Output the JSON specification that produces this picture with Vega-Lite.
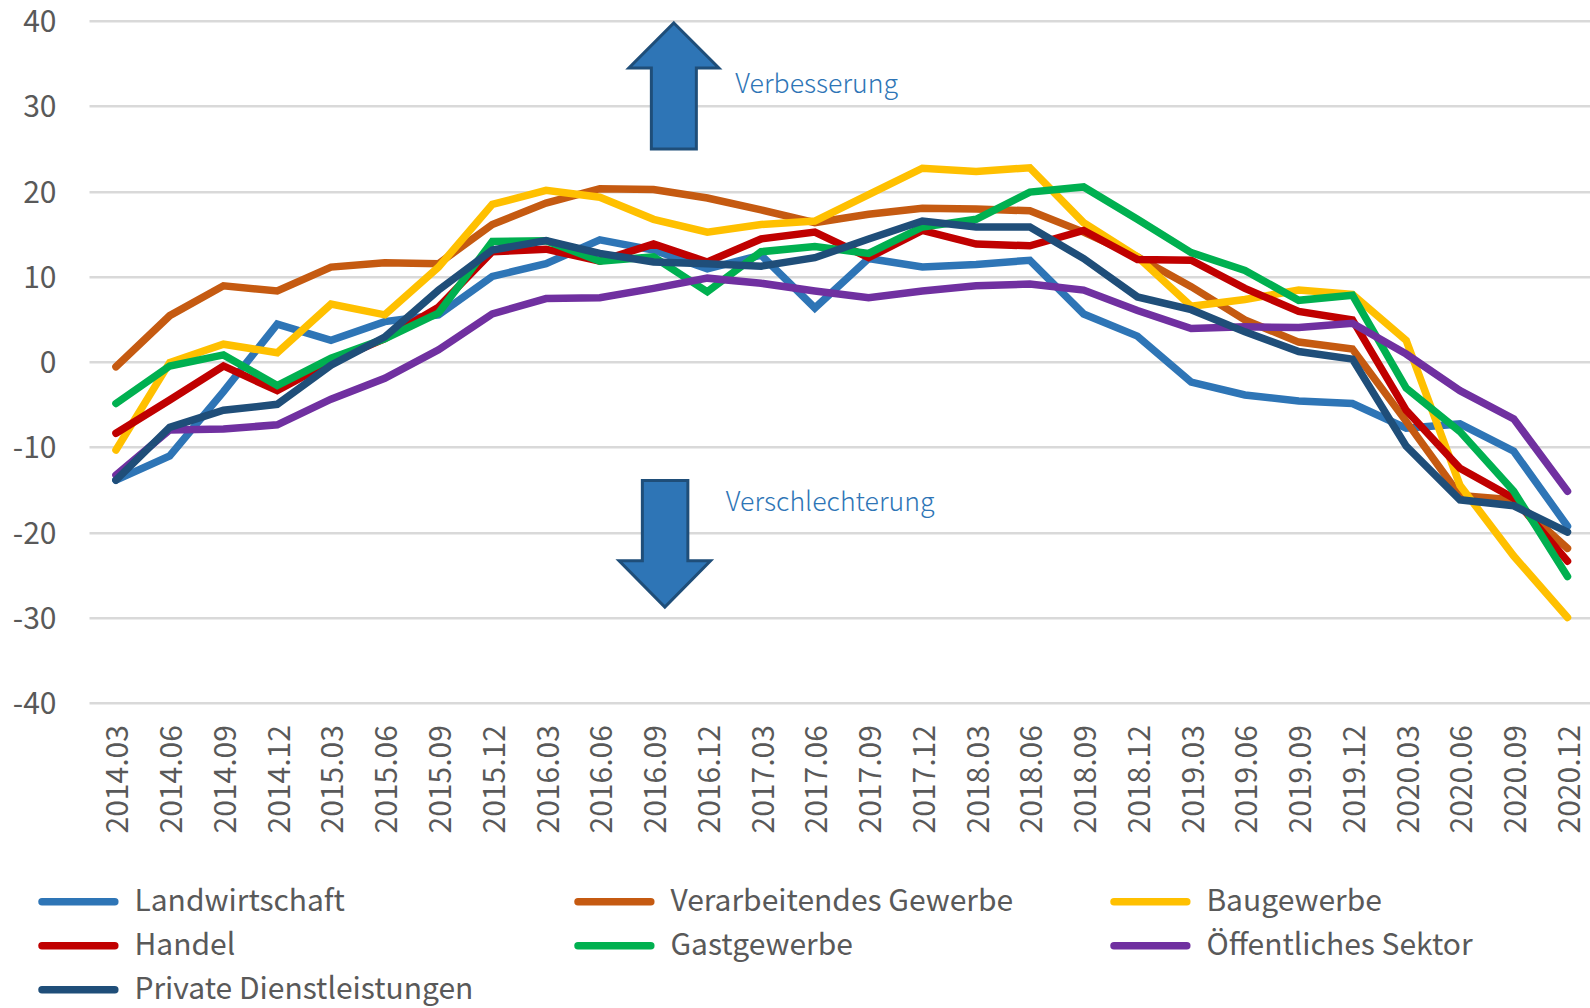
{"$schema":"https://vega.github.io/schema/vega-lite/v6.json","autosize":"none","padding":{"left":89,"top":20.7,"right":0,"bottom":305.3},"width":1501,"height":682,"background":"white","view":{"stroke":null},"datasets":{"lines":[
{"q":"2014.03","s":"Landwirtschaft","v":-13.9},{"q":"2014.06","s":"Landwirtschaft","v":-11.05},{"q":"2014.09","s":"Landwirtschaft","v":-3.5},{"q":"2014.12","s":"Landwirtschaft","v":4.4},{"q":"2015.03","s":"Landwirtschaft","v":2.5},{"q":"2015.06","s":"Landwirtschaft","v":4.7},{"q":"2015.09","s":"Landwirtschaft","v":5.5},{"q":"2015.12","s":"Landwirtschaft","v":10},{"q":"2016.03","s":"Landwirtschaft","v":11.5},{"q":"2016.06","s":"Landwirtschaft","v":14.3},{"q":"2016.09","s":"Landwirtschaft","v":13.1},{"q":"2016.12","s":"Landwirtschaft","v":10.9},{"q":"2017.03","s":"Landwirtschaft","v":12.5},{"q":"2017.06","s":"Landwirtschaft","v":6.3},{"q":"2017.09","s":"Landwirtschaft","v":12.1},{"q":"2017.12","s":"Landwirtschaft","v":11.1},{"q":"2018.03","s":"Landwirtschaft","v":11.4},{"q":"2018.06","s":"Landwirtschaft","v":11.9},{"q":"2018.09","s":"Landwirtschaft","v":5.6},{"q":"2018.12","s":"Landwirtschaft","v":3},{"q":"2019.03","s":"Landwirtschaft","v":-2.4},{"q":"2019.06","s":"Landwirtschaft","v":-3.9},{"q":"2019.09","s":"Landwirtschaft","v":-4.6},{"q":"2019.12","s":"Landwirtschaft","v":-4.9},{"q":"2020.03","s":"Landwirtschaft","v":-7.8},{"q":"2020.06","s":"Landwirtschaft","v":-7.3},{"q":"2020.09","s":"Landwirtschaft","v":-10.5},{"q":"2020.12","s":"Landwirtschaft","v":-19.3},
{"q":"2014.03","s":"Verarbeitendes Gewerbe","v":-0.6},{"q":"2014.06","s":"Verarbeitendes Gewerbe","v":5.4},{"q":"2014.09","s":"Verarbeitendes Gewerbe","v":8.9},{"q":"2014.12","s":"Verarbeitendes Gewerbe","v":8.3},{"q":"2015.03","s":"Verarbeitendes Gewerbe","v":11.1},{"q":"2015.06","s":"Verarbeitendes Gewerbe","v":11.6},{"q":"2015.09","s":"Verarbeitendes Gewerbe","v":11.5},{"q":"2015.12","s":"Verarbeitendes Gewerbe","v":16.1},{"q":"2016.03","s":"Verarbeitendes Gewerbe","v":18.6},{"q":"2016.06","s":"Verarbeitendes Gewerbe","v":20.3},{"q":"2016.09","s":"Verarbeitendes Gewerbe","v":20.2},{"q":"2016.12","s":"Verarbeitendes Gewerbe","v":19.2},{"q":"2017.03","s":"Verarbeitendes Gewerbe","v":17.8},{"q":"2017.06","s":"Verarbeitendes Gewerbe","v":16.3},{"q":"2017.09","s":"Verarbeitendes Gewerbe","v":17.3},{"q":"2017.12","s":"Verarbeitendes Gewerbe","v":18},{"q":"2018.03","s":"Verarbeitendes Gewerbe","v":17.9},{"q":"2018.06","s":"Verarbeitendes Gewerbe","v":17.7},{"q":"2018.09","s":"Verarbeitendes Gewerbe","v":15.2},{"q":"2018.12","s":"Verarbeitendes Gewerbe","v":12.3},{"q":"2019.03","s":"Verarbeitendes Gewerbe","v":8.8},{"q":"2019.06","s":"Verarbeitendes Gewerbe","v":4.9},{"q":"2019.09","s":"Verarbeitendes Gewerbe","v":2.3},{"q":"2019.12","s":"Verarbeitendes Gewerbe","v":1.5},{"q":"2020.03","s":"Verarbeitendes Gewerbe","v":-7},{"q":"2020.06","s":"Verarbeitendes Gewerbe","v":-15.7},{"q":"2020.09","s":"Verarbeitendes Gewerbe","v":-16.2},{"q":"2020.12","s":"Verarbeitendes Gewerbe","v":-21.9},
{"q":"2014.03","s":"Baugewerbe","v":-10.35},{"q":"2014.06","s":"Baugewerbe","v":-0.1},{"q":"2014.09","s":"Baugewerbe","v":2.05},{"q":"2014.12","s":"Baugewerbe","v":1.05},{"q":"2015.03","s":"Baugewerbe","v":6.75},{"q":"2015.06","s":"Baugewerbe","v":5.5},{"q":"2015.09","s":"Baugewerbe","v":11.1},{"q":"2015.12","s":"Baugewerbe","v":18.45},{"q":"2016.03","s":"Baugewerbe","v":20.1},{"q":"2016.06","s":"Baugewerbe","v":19.3},{"q":"2016.09","s":"Baugewerbe","v":16.7},{"q":"2016.12","s":"Baugewerbe","v":15.2},{"q":"2017.03","s":"Baugewerbe","v":16.1},{"q":"2017.06","s":"Baugewerbe","v":16.5},{"q":"2017.09","s":"Baugewerbe","v":19.6},{"q":"2017.12","s":"Baugewerbe","v":22.7},{"q":"2018.03","s":"Baugewerbe","v":22.3},{"q":"2018.06","s":"Baugewerbe","v":22.75},{"q":"2018.09","s":"Baugewerbe","v":16.3},{"q":"2018.12","s":"Baugewerbe","v":12.3},{"q":"2019.03","s":"Baugewerbe","v":6.5},{"q":"2019.06","s":"Baugewerbe","v":7.3},{"q":"2019.09","s":"Baugewerbe","v":8.4},{"q":"2019.12","s":"Baugewerbe","v":7.9},{"q":"2020.03","s":"Baugewerbe","v":2.5},{"q":"2020.06","s":"Baugewerbe","v":-14.5},{"q":"2020.09","s":"Baugewerbe","v":-22.8},{"q":"2020.12","s":"Baugewerbe","v":-30},
{"q":"2014.03","s":"Handel","v":-8.4},{"q":"2014.06","s":"Handel","v":-4.5},{"q":"2014.09","s":"Handel","v":-0.5},{"q":"2014.12","s":"Handel","v":-3.4},{"q":"2015.03","s":"Handel","v":0},{"q":"2015.06","s":"Handel","v":2.7},{"q":"2015.09","s":"Handel","v":6.4},{"q":"2015.12","s":"Handel","v":12.9},{"q":"2016.03","s":"Handel","v":13.2},{"q":"2016.06","s":"Handel","v":11.8},{"q":"2016.09","s":"Handel","v":13.8},{"q":"2016.12","s":"Handel","v":11.7},{"q":"2017.03","s":"Handel","v":14.4},{"q":"2017.06","s":"Handel","v":15.2},{"q":"2017.09","s":"Handel","v":12.2},{"q":"2017.12","s":"Handel","v":15.4},{"q":"2018.03","s":"Handel","v":13.8},{"q":"2018.06","s":"Handel","v":13.6},{"q":"2018.09","s":"Handel","v":15.4},{"q":"2018.12","s":"Handel","v":12},{"q":"2019.03","s":"Handel","v":11.9},{"q":"2019.06","s":"Handel","v":8.6},{"q":"2019.09","s":"Handel","v":5.9},{"q":"2019.12","s":"Handel","v":4.9},{"q":"2020.03","s":"Handel","v":-5.7},{"q":"2020.06","s":"Handel","v":-12.5},{"q":"2020.09","s":"Handel","v":-16},{"q":"2020.12","s":"Handel","v":-23.4},
{"q":"2014.03","s":"Gastgewerbe","v":-4.9},{"q":"2014.06","s":"Gastgewerbe","v":-0.5},{"q":"2014.09","s":"Gastgewerbe","v":0.8},{"q":"2014.12","s":"Gastgewerbe","v":-2.8},{"q":"2015.03","s":"Gastgewerbe","v":0.4},{"q":"2015.06","s":"Gastgewerbe","v":2.7},{"q":"2015.09","s":"Gastgewerbe","v":5.7},{"q":"2015.12","s":"Gastgewerbe","v":14.1},{"q":"2016.03","s":"Gastgewerbe","v":14.2},{"q":"2016.06","s":"Gastgewerbe","v":11.8},{"q":"2016.09","s":"Gastgewerbe","v":12.3},{"q":"2016.12","s":"Gastgewerbe","v":8.2},{"q":"2017.03","s":"Gastgewerbe","v":12.9},{"q":"2017.06","s":"Gastgewerbe","v":13.5},{"q":"2017.09","s":"Gastgewerbe","v":12.7},{"q":"2017.12","s":"Gastgewerbe","v":15.8},{"q":"2018.03","s":"Gastgewerbe","v":16.7},{"q":"2018.06","s":"Gastgewerbe","v":19.9},{"q":"2018.09","s":"Gastgewerbe","v":20.5},{"q":"2018.12","s":"Gastgewerbe","v":16.7},{"q":"2019.03","s":"Gastgewerbe","v":12.8},{"q":"2019.06","s":"Gastgewerbe","v":10.7},{"q":"2019.09","s":"Gastgewerbe","v":7.2},{"q":"2019.12","s":"Gastgewerbe","v":7.8},{"q":"2020.03","s":"Gastgewerbe","v":-3.1},{"q":"2020.06","s":"Gastgewerbe","v":-8.2},{"q":"2020.09","s":"Gastgewerbe","v":-15.2},{"q":"2020.12","s":"Gastgewerbe","v":-25.2},
{"q":"2014.03","s":"Öffentliches Sektor","v":-13.3},{"q":"2014.06","s":"Öffentliches Sektor","v":-8},{"q":"2014.09","s":"Öffentliches Sektor","v":-7.9},{"q":"2014.12","s":"Öffentliches Sektor","v":-7.4},{"q":"2015.03","s":"Öffentliches Sektor","v":-4.4},{"q":"2015.06","s":"Öffentliches Sektor","v":-1.95},{"q":"2015.09","s":"Öffentliches Sektor","v":1.4},{"q":"2015.12","s":"Öffentliches Sektor","v":5.6},{"q":"2016.03","s":"Öffentliches Sektor","v":7.4},{"q":"2016.06","s":"Öffentliches Sektor","v":7.5},{"q":"2016.09","s":"Öffentliches Sektor","v":8.6},{"q":"2016.12","s":"Öffentliches Sektor","v":9.8},{"q":"2017.03","s":"Öffentliches Sektor","v":9.2},{"q":"2017.06","s":"Öffentliches Sektor","v":8.3},{"q":"2017.09","s":"Öffentliches Sektor","v":7.5},{"q":"2017.12","s":"Öffentliches Sektor","v":8.3},{"q":"2018.03","s":"Öffentliches Sektor","v":8.9},{"q":"2018.06","s":"Öffentliches Sektor","v":9.1},{"q":"2018.09","s":"Öffentliches Sektor","v":8.4},{"q":"2018.12","s":"Öffentliches Sektor","v":6},{"q":"2019.03","s":"Öffentliches Sektor","v":3.9},{"q":"2019.06","s":"Öffentliches Sektor","v":4.1},{"q":"2019.09","s":"Öffentliches Sektor","v":4},{"q":"2019.12","s":"Öffentliches Sektor","v":4.5},{"q":"2020.03","s":"Öffentliches Sektor","v":0.9},{"q":"2020.06","s":"Öffentliches Sektor","v":-3.4},{"q":"2020.09","s":"Öffentliches Sektor","v":-6.7},{"q":"2020.12","s":"Öffentliches Sektor","v":-15.2},
{"q":"2014.03","s":"Private Dienstleistungen","v":-13.9},{"q":"2014.06","s":"Private Dienstleistungen","v":-7.7},{"q":"2014.09","s":"Private Dienstleistungen","v":-5.7},{"q":"2014.12","s":"Private Dienstleistungen","v":-5},{"q":"2015.03","s":"Private Dienstleistungen","v":-0.4},{"q":"2015.06","s":"Private Dienstleistungen","v":2.9},{"q":"2015.09","s":"Private Dienstleistungen","v":8.4},{"q":"2015.12","s":"Private Dienstleistungen","v":13.1},{"q":"2016.03","s":"Private Dienstleistungen","v":14.2},{"q":"2016.06","s":"Private Dienstleistungen","v":12.7},{"q":"2016.09","s":"Private Dienstleistungen","v":11.7},{"q":"2016.12","s":"Private Dienstleistungen","v":11.5},{"q":"2017.03","s":"Private Dienstleistungen","v":11.2},{"q":"2017.06","s":"Private Dienstleistungen","v":12.2},{"q":"2017.09","s":"Private Dienstleistungen","v":14.4},{"q":"2017.12","s":"Private Dienstleistungen","v":16.5},{"q":"2018.03","s":"Private Dienstleistungen","v":15.8},{"q":"2018.06","s":"Private Dienstleistungen","v":15.8},{"q":"2018.09","s":"Private Dienstleistungen","v":12.1},{"q":"2018.12","s":"Private Dienstleistungen","v":7.6},{"q":"2019.03","s":"Private Dienstleistungen","v":6.1},{"q":"2019.06","s":"Private Dienstleistungen","v":3.5},{"q":"2019.09","s":"Private Dienstleistungen","v":1.2},{"q":"2019.12","s":"Private Dienstleistungen","v":0.3},{"q":"2020.03","s":"Private Dienstleistungen","v":-9.9},{"q":"2020.06","s":"Private Dienstleistungen","v":-16.2},{"q":"2020.09","s":"Private Dienstleistungen","v":-16.9},{"q":"2020.12","s":"Private Dienstleistungen","v":-20}
],"up":[{"q":"2016.09","v":30}],"down":[{"q":"2016.09","v":-20}],"t1":[{"q":"2016.12","v":32.45,"t":"Verbesserung"}],"t2":[{"q":"2016.12","v":-16.55,"t":"Verschlechterung"}]},
"encoding":{"x":{"field":"q","type":"ordinal","sort":null,"scale":{"type":"point","range":[0,1501],"padding":0.46,"align":0.545},"axis":{"title":null,"domain":false,"ticks":false,"grid":false,"labelAngle":-90,"labelAlign":"right","labelBaseline":"middle","labelPadding":22,"labelOffset":3,"labelFont":"Noto Sans CJK SC","labelFontSize":30,"labelColor":"#595959","labelOverlap":false}},"y":{"field":"v","type":"quantitative","scale":{"domain":[-40,40],"nice":false},"axis":{"title":null,"values":[-40,-30,-20,-10,0,10,20,30,40],"domain":false,"ticks":false,"grid":true,"gridColor":"#d9d9d9","gridWidth":2.5,"labelExpr":"'' + datum.value","labelPadding":33,"labelOffset":2,"labelFont":"Noto Sans CJK SC","labelFontSize":30,"labelColor":"#595959"}}},
"layer":[
{"data":{"name":"lines"},"mark":{"type":"line","strokeWidth":7.5,"strokeCap":"round","strokeJoin":"miter","clip":false},"encoding":{"color":{"field":"s","type":"nominal","sort":null,"scale":{"domain":["Landwirtschaft","Verarbeitendes Gewerbe","Baugewerbe","Handel","Gastgewerbe","Öffentliches Sektor","Private Dienstleistungen"],"range":["#2e75b6","#c55a11","#ffc000","#c00000","#00b050","#7030a0","#1f4e79"]},"legend":{"orient":"none","legendX":-25.6,"legendY":866,"title":null,"direction":"horizontal","columns":3,"gridAlign":"all","symbolType":"M-5.6,0 L5.6,0","symbolSize":169,"symbolStrokeWidth":7.5,"labelFont":"Noto Sans CJK SC","labelFontSize":30,"labelColor":"#595959","labelOffset":41,"columnPadding":85,"rowPadding":14,"labelLimit":500,"symbolOffset":0,"encoding":{"symbols":{"strokeCap":{"value":"round"}}}},"title":null},"order":{"field":"q"}}},
{"data":{"name":"up"},"mark":{"type":"point","filled":true,"size":4,"opacity":1,"shape":"M20.3,-83 L65.3,-38 L42.8,-38 L42.8,43 L-2.2,43 L-2.2,-38 L-24.7,-38 Z","fill":"#2e75b6","stroke":"#1f4e79","strokeWidth":3}},
{"data":{"name":"down"},"mark":{"type":"point","filled":true,"size":4,"opacity":1,"shape":"M-11.2,-51.7 L34.3,-51.7 L34.3,28.5 L57,28.5 L11.3,74.8 L-34.5,28.5 L-11.2,28.5 Z","fill":"#2e75b6","stroke":"#1f4e79","strokeWidth":3}},
{"data":{"name":"t1"},"mark":{"type":"text","text":{"expr":"datum.t"},"align":"left","baseline":"middle","dx":28,"font":"Noto Sans CJK SC","fontWeight":300,"fontSize":26.7,"color":"#2e75b6"}},
{"data":{"name":"t2"},"mark":{"type":"text","text":{"expr":"datum.t"},"align":"left","baseline":"middle","dx":18.5,"font":"Noto Sans CJK SC","fontWeight":300,"fontSize":26.7,"color":"#2e75b6"}}
]}
